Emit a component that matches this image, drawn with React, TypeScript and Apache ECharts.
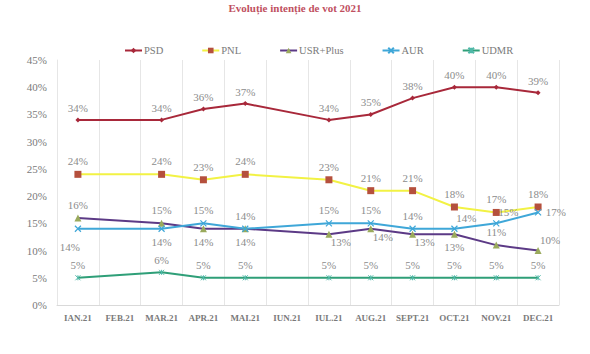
import React, { useEffect, useRef } from "react";
import * as echarts from "echarts";

const categories = ["IAN.21", "FEB.21", "MAR.21", "APR.21", "MAI.21", "IUN.21", "IUL.21", "AUG.21", "SEPT.21", "OCT.21", "NOV.21", "DEC.21"];
const psd = [34, null, 34, 36, 37, null, 34, 35, 38, 40, 40, 39];
const pnl = [24, null, 24, 23, 24, null, 23, 21, 21, 18, 17, 18];
const usr = [16, null, 15, 14, 14, null, 13, 14, 13, 13, 11, 10];
const aur = [14, null, 14, 15, 14, null, 15, 15, 14, 14, 15, 17];
const udmr = [5, null, 6, 5, 5, null, 5, 5, 5, 5, 5, 5];
const yTicks = [0, 5, 10, 15, 20, 25, 30, 35, 40, 45];

const usrPos = ["top", null, "top", "bottom", "bottom", null, "bottomRight", "bottomRight", "bottomRight", "bottom", "top", "topRight"];
const aurPos = ["bottomLeft", null, "bottom", "top", "top", null, "top", "top", "top", "topRight", "topRight", "right"];

const FONT = "Liberation Serif";
const labelColor = "#8c8c8c";

function withPos(vals: (number | null)[], pos: (string | null)[]) {
  return vals.map((v, i) => {
    if (v === null) return null;
    const p = pos[i] || "top";
    const lbl: any = { position: "top" };
    if (p === "bottomLeft") { lbl.position = "bottom"; lbl.offset = [-8, 5]; }
    else if (p === "bottomRight") { lbl.position = "bottom"; lbl.offset = [12, -5]; }
    else if (p === "topRight") { lbl.position = "top"; lbl.offset = [12, 2]; }
    else if (p === "right") { lbl.position = "right"; lbl.offset = [0, 0]; }
    else lbl.position = p;
    return { value: v, label: lbl };
  });
}

export default function App() {
  const ref = useRef<HTMLDivElement>(null);
  useEffect(() => {
    const chart = echarts.init(ref.current!, null, { renderer: "svg" });
    const baseLabel = {
      show: true,
      formatter: (p: any) => p.value + "%",
      color: labelColor,
      fontFamily: FONT,
      fontSize: 11,
      distance: 4,
    };
    chart.setOption({
      animation: false,
      textStyle: { fontFamily: FONT },
      title: {
        text: "Evoluție intenție de vot 2021",
        left: "center",
        top: -3,
        textStyle: { color: "#c0505f", fontSize: 11, fontWeight: "bold", fontFamily: FONT },
      },
      legend: {
        top: 40,
        left: 119,
        itemGap: 38,
        itemWidth: 17,
        itemHeight: 7,
        textStyle: { color: "#7a7a7a", fontSize: 10.5, fontFamily: FONT, padding: [0, 0, 0, -3] },
        data: ["PSD", "PNL", "USR+Plus", "AUR", "UDMR"],
      },
      grid: { left: 57, right: 31, top: 60, bottom: 49, containLabel: false },
      xAxis: {
        type: "category",
        data: categories,
        boundaryGap: true,
        axisLine: { lineStyle: { color: "#d9d9d9" } },
        axisTick: { show: false },
        splitLine: { show: true, interval: 0, lineStyle: { color: "#e6e6e6" } },
        axisLabel: { interval: 0, color: "#7a7a7a", fontSize: 9, fontWeight: "bold", fontFamily: FONT, margin: 8 },
      },
      yAxis: {
        type: "value",
        min: 0,
        max: 45,
        interval: 5,
        axisLine: { show: true, lineStyle: { color: "#e6e6e6" } },
        axisTick: { show: false },
        splitLine: { show: false },
        axisLabel: { color: "#7a7a7a", fontSize: 11, fontFamily: FONT, margin: 10, formatter: (v: number) => (yTicks.includes(v) ? v + "%" : "") },
      },
      series: [
        {
          name: "PSD", type: "line", data: psd, connectNulls: true,
          symbol: "diamond", symbolSize: 5,
          lineStyle: { color: "#a8283a", width: 2 },
          itemStyle: { color: "#a8283a" },
          label: baseLabel,
        },
        {
          name: "PNL", type: "line", data: pnl, connectNulls: true,
          symbol: "rect", symbolSize: 7,
          lineStyle: { color: "#f2f244", width: 2 },
          itemStyle: { color: "#b5503d" },
          label: baseLabel,
        },
        {
          name: "USR+Plus", type: "line", data: withPos(usr, usrPos), connectNulls: true,
          symbol: "triangle", symbolSize: 7,
          lineStyle: { color: "#5c3a86", width: 2 },
          itemStyle: { color: "#9aaa5c" },
          label: baseLabel,
        },
        {
          name: "AUR", type: "line", data: withPos(aur, aurPos), connectNulls: true,
          symbol: "path://M0 0L10 10M10 0L0 10", symbolSize: 6,
          lineStyle: { color: "#3fa7d8", width: 2 },
          itemStyle: { color: "#3fa7d8", borderColor: "#3fa7d8", borderWidth: 1.2 },
          label: baseLabel,
        },
        {
          name: "UDMR", type: "line", data: udmr, connectNulls: true,
          symbol: "path://M0 0L10 10M10 0L0 10M5 0L5 10", symbolSize: 5,
          lineStyle: { color: "#2f9f78", width: 2 },
          itemStyle: { color: "#4fb8a8", borderColor: "#4fb8a8", borderWidth: 1 },
          label: baseLabel,
        },
      ],
    });
    return () => chart.dispose();
  }, []);
  return <div ref={ref} style={{ width: 590, height: 354, position: "absolute", left: 0, top: 0, background: "#fff" }} />;
}
